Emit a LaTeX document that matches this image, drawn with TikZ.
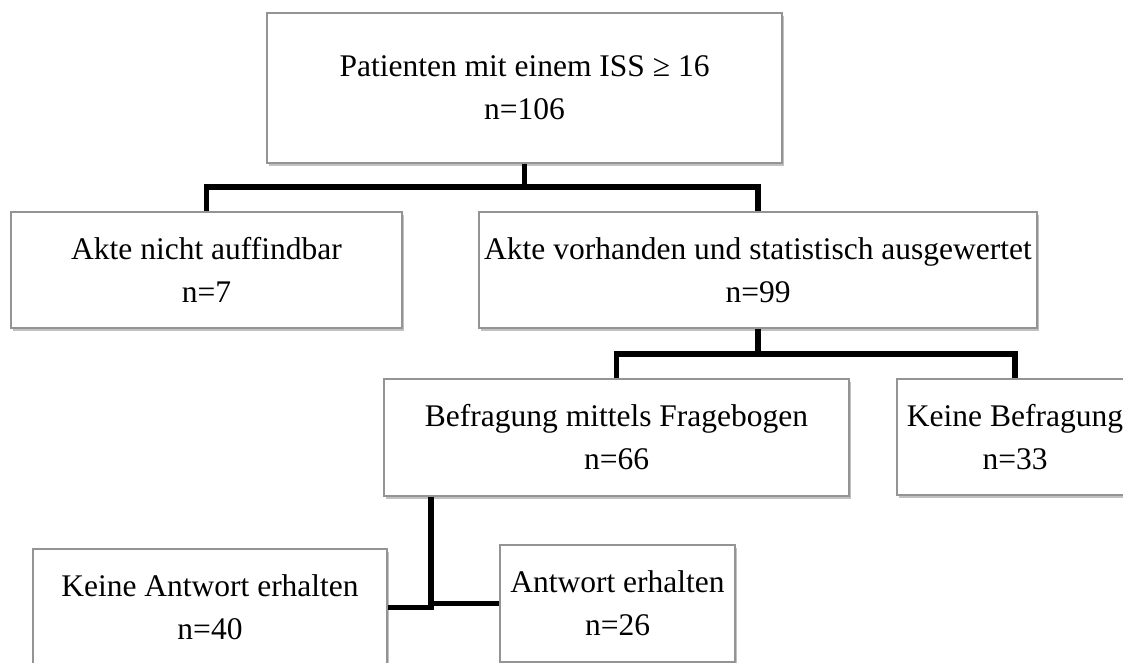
\documentclass[tikz,border=0pt]{standalone}
\usepackage{fontspec}
\setmainfont{Liberation Serif}
\usepackage{tikz}
\usetikzlibrary{shadows,calc}

\begin{document}
\begin{tikzpicture}[x=1pt,y=-1pt,
    box/.style={draw=black!42,line width=1.4pt,fill=white,align=center,inner sep=0pt,
      font=\fontsize{31.5}{43}\selectfont,
      drop shadow={shadow xshift=1.5pt,shadow yshift=-3pt,opacity=0.35,fill=black!70}},
    link/.style={line width=5.5pt}]
  \useasboundingbox (0,0) rectangle (1123,663);
  \clip (0,0) rectangle (1123,663);
  % boxes
  \node[box,minimum width=515pt,minimum height=150pt] (pat) at (524.5,88) {Patienten mit einem ISS ≥ 16\\n=106};
  \node[box,minimum width=391pt,minimum height=116pt] (aktn) at (206.5,270) {Akte nicht auffindbar\\n=7};
  \node[box,minimum width=558pt,minimum height=116pt] (aktv) at (758,270) {Akte vorhanden und statistisch ausgewertet\\n=99};
  \node[box,minimum width=465pt,minimum height=117pt] (befr) at (616.5,437.5) {Befragung mittels Fragebogen\\n=66};
  \node[box,minimum width=236pt,minimum height=116pt] (keinb) at (1015,437) {Keine Befragung\\n=33};
  \node[box,minimum width=354pt,minimum height=117pt] (kant) at (210,607.5) {Keine Antwort erhalten\\n=40};
  \node[box,minimum width=235pt,minimum height=117pt] (ant) at (617.5,603.5) {Antwort erhalten\\n=26};
  % connectors
  \coordinate (j1) at (523,187); \coordinate (j2) at (758,354); \coordinate (j3) at (431,605);
  \draw[link] (pat.south) -- (pat.south |- j1);
  \draw[link] (aktn.north) |- (j1) -| (aktv.north);
  \draw[link] (aktv.south) -- (j2);
  \draw[link] (befr.north) |- (j2) -| (keinb.north);
  \draw[link] (j3 |- befr.south) -- (j3 |- kant.east) -- (kant.east);
  \draw[link] (j3 |- ant.west) -- (ant.west);
\end{tikzpicture}
\end{document}
